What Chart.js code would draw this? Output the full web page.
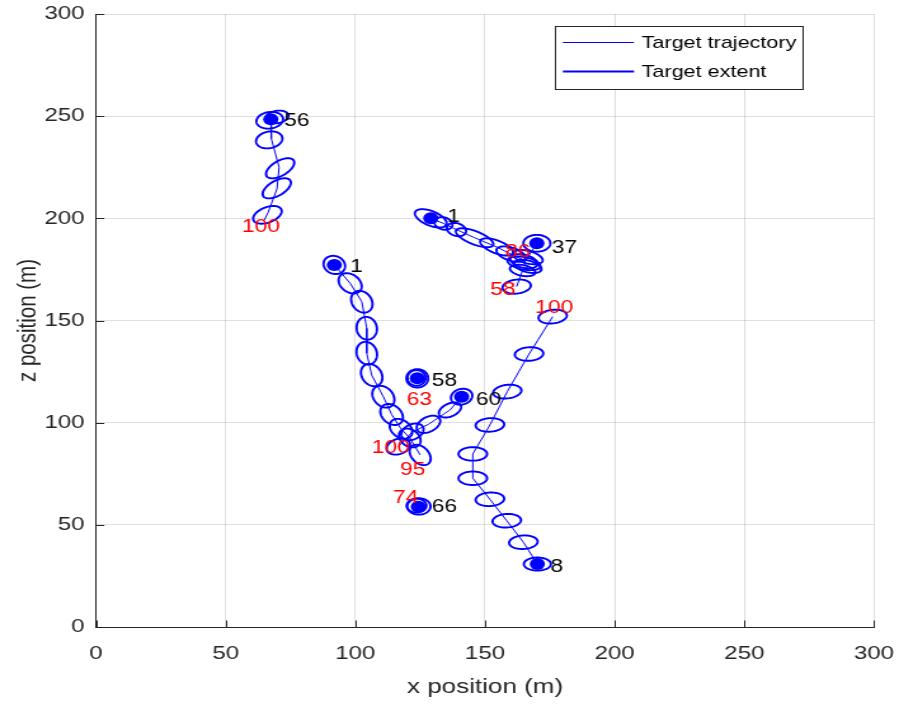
<!DOCTYPE html>
<html>
<head>
<meta charset="utf-8">
<script src="https://cdn.jsdelivr.net/npm/chart.js@4/dist/chart.umd.min.js"></script>
<style>
  html, body { margin: 0; padding: 0; background: #fff; overflow: hidden; }
  #wrap { width: 899px; height: 706px; overflow: hidden; }
  /* square axes drawn at 708 px, widened to the 899 px window */
  #plot { display: block; transform-origin: 0 0; transform: scaleX(1.26977); }
</style>
</head>
<body>
<div id="wrap"><canvas id="plot" width="708" height="706"></canvas></div>
<script>
// Axis ticks (metres)
const xTicks = [0, 50, 100, 150, 200, 250, 300];
const zTicks = [0, 50, 100, 150, 200, 250, 300];

// Target trajectories, [x, z] in metres
const trackA = [[67.4, 248.5], [67.6, 239.0], [70.6, 225.0], [69.8, 214.5], [66.4, 203.0], [64.8, 199.0]];
const trackB = [[91.9, 177.2], [98.0, 168.2], [102.5, 159.2], [104.4, 146.2], [104.4, 134.0], [106.3, 123.3],
                [110.8, 112.7], [114.0, 104.0], [117.6, 97.0], [121.0, 92.5], [125.0, 84.2]];
const trackC = [[141.0, 112.7], [136.5, 106.2], [128.2, 99.2], [122.0, 95.5], [116.6, 88.3]];
const trackD = [[123.9, 121.7], [124.2, 121.0]];
const trackE = [[124.3, 58.9], [123.6, 60.2]];
const trackF = [[170.2, 30.8], [164.8, 41.5], [158.4, 52.0], [151.9, 62.5], [145.3, 72.8], [145.3, 84.7],
                [151.9, 98.9], [158.6, 115.2], [167.0, 133.6], [176.1, 151.9]];
const trackG = [[129.1, 200.0], [134.0, 197.5], [139.0, 194.5], [146.0, 190.5], [154.5, 186.0], [160.0, 182.5], [165.0, 179.5]];
const trackH = [[170.0, 187.8], [166.5, 181.0], [165.0, 178.0], [166.5, 176.5], [164.5, 174.5], [162.2, 166.6]];

// Extent ellipses: [x centre, z centre, semi-axis a, semi-axis b, tilt in degrees]
const extentA = [[67.0, 248.0, 5.2, 4.0, 15], [69.8, 249.6, 4.5, 3.0, 15], [66.8, 238.4, 5.2, 4.0, 20],
                 [71.0, 224.5, 6.5, 3.4, 40], [69.7, 214.7, 6.5, 3.4, 40], [66.1, 201.7, 6.0, 3.6, 30]];
const extentB = [[91.9, 177.2, 4.6, 4.0, -60], [98.0, 168.2, 5.4, 3.9, -55], [102.5, 159.2, 5.5, 3.9, -70],
                 [104.4, 146.2, 5.6, 3.9, -85], [104.4, 134.0, 5.6, 3.9, -80], [106.3, 123.3, 5.6, 3.9, -70],
                 [110.8, 112.7, 5.6, 3.9, -65], [114.0, 104.0, 5.5, 3.9, -60], [117.6, 97.0, 5.3, 3.8, -55],
                 [121.0, 92.5, 5.0, 3.7, -55], [125.0, 84.2, 5.4, 3.5, -60]];
const extentC = [[141.0, 112.7, 4.3, 3.7, 35], [136.5, 106.2, 4.8, 3.0, 35], [128.2, 99.2, 5.2, 3.4, 40],
                 [122.0, 95.5, 4.8, 3.5, 40], [116.6, 88.3, 4.8, 3.6, 30]];
const extentD = [[123.9, 121.7, 4.2, 4.5, 0], [123.6, 121.9, 3.5, 3.8, 0]];
const extentE = [[124.5, 59.0, 4.5, 4.0, 0], [123.6, 59.4, 3.8, 3.4, 0]];
const extentF = [[170.2, 30.8, 5.2, 3.2, 0], [164.8, 41.5, 5.5, 3.3, 5], [158.4, 52.0, 5.5, 3.3, 5],
                 [151.9, 62.5, 5.5, 3.3, 5], [145.3, 72.8, 5.5, 3.3, 0], [145.3, 84.7, 5.5, 3.3, 0],
                 [151.9, 98.9, 5.5, 3.3, 5], [158.6, 115.2, 5.5, 3.3, 10], [167.0, 133.6, 5.5, 3.3, 5],
                 [176.1, 151.9, 5.5, 3.3, 10]];
const extentG = [[129.1, 200.0, 6.8, 3.4, -30], [134.0, 197.5, 3.6, 2.9, -30], [139.0, 194.5, 3.9, 3.0, -30],
                 [146.0, 190.5, 8.0, 3.1, -28], [154.5, 186.0, 7.0, 3.0, -28], [160.0, 182.5, 6.0, 3.1, -25],
                 [165.0, 179.0, 5.5, 3.1, -20]];
const extentH = [[170.0, 187.8, 5.2, 4.1, 0], [166.5, 181.0, 6.0, 3.0, -20], [165.0, 178.0, 6.5, 3.0, -15],
                 [166.5, 176.5, 5.5, 2.8, -20], [164.5, 174.5, 5.0, 2.6, -15], [162.2, 166.6, 5.5, 3.4, 10]];

// Time-step labels: [text, x, z]
const startLabels = [['56', 72.5, 247.7], ['1', 98.0, 176.2], ['58', 129.5, 120.6], ['60', 146.5, 111.1],
                     ['66', 129.5, 58.6], ['8', 175.3, 29.5], ['1', 135.5, 200.8], ['37', 175.7, 185.4]];
const endLabels = [['100', 56.2, 195.8], ['86', 157.7, 183.5], ['58', 152.0, 165.0], ['100', 169.3, 156.1],
                   ['63', 119.8, 111.1], ['100', 106.3, 87.6], ['95', 117.2, 76.8], ['74', 114.5, 63.1]];

const legendLabels = ['Target trajectory', 'Target extent'];

const tracks = [trackA, trackB, trackC, trackD, trackE, trackF, trackG, trackH];
const extents = [extentA, extentB, extentC, extentD, extentE, extentF, extentG, extentH];

const BLUE = 'rgb(0,0,255)';
const AXIS = '#262626';
const FONT = '"Liberation Sans", Arial, Helvetica, sans-serif';

const toXY = pts => pts.map(([x, z]) => ({ x, y: z }));

const datasets = tracks.map((t, i) => ({
  label: 'track' + i,
  data: toXY(t),
  showLine: true,
  borderColor: BLUE,
  borderWidth: 1,
  pointRadius: 0,
  fill: false,
  tension: 0
}));
datasets.push({
  label: 'start',
  data: toXY(tracks.map(t => t[0])),
  showLine: false,
  pointRadius: 6,
  pointBackgroundColor: BLUE,
  pointBorderColor: BLUE,
  pointBorderWidth: 0
});

function px(chart, x, z) {
  return [chart.scales.x.getPixelForValue(x), chart.scales.y.getPixelForValue(z)];
}

// Keep tick-label overflow from shrinking the plot box
function noOverflow(s) {
  s.paddingTop = 0; s.paddingBottom = 0; s.paddingLeft = 0; s.paddingRight = 0;
}

// Extent ellipses traced through the chart scales
const extentPlugin = {
  id: 'extentEllipses',
  afterDatasetsDraw(chart) {
    const { ctx, chartArea: a } = chart;
    ctx.save();
    ctx.beginPath();
    ctx.rect(a.left, a.top, a.right - a.left, a.bottom - a.top);
    ctx.clip();
    ctx.strokeStyle = BLUE;
    ctx.lineWidth = 1.9;
    extents.flat().forEach(([cx, cz, ea, eb, deg]) => {
      const th = deg * Math.PI / 180, c = Math.cos(th), s = Math.sin(th);
      ctx.beginPath();
      for (let i = 0; i <= 90; i++) {
        const t = i / 90 * 2 * Math.PI;
        const u = ea * Math.cos(t), v = eb * Math.sin(t);
        const [X, Y] = px(chart, cx + u * c - v * s, cz + u * s + v * c);
        if (i === 0) ctx.moveTo(X, Y); else ctx.lineTo(X, Y);
      }
      ctx.closePath();
      ctx.stroke();
    });
    ctx.restore();
  }
};

// Start (black) and end (red) time-step numbers
const labelPlugin = {
  id: 'stepLabels',
  afterDatasetsDraw(chart) {
    const ctx = chart.ctx;
    ctx.save();
    ctx.font = '18px ' + FONT;
    ctx.textAlign = 'left';
    ctx.textBaseline = 'middle';
    ctx.fillStyle = '#000';
    startLabels.forEach(([t, x, z]) => { const [X, Y] = px(chart, x, z); ctx.fillText(t, X, Y); });
    ctx.fillStyle = 'rgb(255,0,0)';
    endLabels.forEach(([t, x, z]) => { const [X, Y] = px(chart, x, z); ctx.fillText(t, X, Y); });
    ctx.restore();
  }
};

// Inward tick marks on the left and bottom axes
const tickPlugin = {
  id: 'innerTicks',
  afterDraw(chart) {
    const { ctx, chartArea: a, scales } = chart;
    const L = 6.5;
    ctx.save();
    ctx.strokeStyle = AXIS;
    ctx.lineWidth = 1;
    ctx.beginPath();
    xTicks.forEach(v => {
      const X = Math.round(scales.x.getPixelForValue(v)) + 0.5;
      ctx.moveTo(X, a.bottom); ctx.lineTo(X, a.bottom - L);
    });
    zTicks.forEach(v => {
      const Y = Math.round(scales.y.getPixelForValue(v)) + 0.5;
      ctx.moveTo(a.left, Y); ctx.lineTo(a.left + L, Y);
    });
    ctx.stroke();
    ctx.restore();
  }
};

// Boxed legend in the upper right of the axes
const legendPlugin = {
  id: 'boxLegend',
  afterDraw(chart) {
    const { ctx, chartArea: a } = chart;
    const right = a.right - 56, top = a.top + 12, w = 195, h = 63;
    const left = right - w;
    ctx.save();
    ctx.fillStyle = '#fff';
    ctx.fillRect(left, top, w, h);
    ctx.strokeStyle = AXIS;
    ctx.lineWidth = 1;
    ctx.strokeRect(Math.round(left) + 0.5, Math.round(top) + 0.5, w, h);
    ctx.font = '17px ' + FONT;
    ctx.textBaseline = 'middle';
    ctx.textAlign = 'left';
    ctx.fillStyle = '#000';
    legendLabels.forEach((txt, i) => {
      const y = top + 16.5 + i * 29;
      ctx.strokeStyle = BLUE;
      ctx.lineWidth = i === 0 ? 1 : 2;
      ctx.beginPath();
      ctx.moveTo(left + 6, y); ctx.lineTo(left + 62, y);
      ctx.stroke();
      ctx.fillText(txt, left + 68, y + 0.5);
    });
    ctx.restore();
  }
};

new Chart(document.getElementById('plot'), {
  type: 'scatter',
  data: { datasets },
  options: {
    responsive: false,
    animation: false,
    events: [],
    layout: { autoPadding: false, padding: { top: 14, right: 19.7, left: 0, bottom: 0 } },
    plugins: { legend: { display: false }, tooltip: { enabled: false } },
    scales: {
      x: {
        type: 'linear', min: 0, max: 300,
        afterBuildTicks: s => { s.ticks = xTicks.map(v => ({ value: v })); },
        afterFit: s => { s.height = 79; noOverflow(s); },
        grid: { color: 'rgba(38,38,38,0.15)', lineWidth: 1, drawTicks: false },
        border: { display: true, color: AXIS, width: 1 },
        ticks: { color: AXIS, font: { family: FONT, size: 19 }, padding: 15, maxRotation: 0, autoSkip: false },
        title: { display: true, text: 'x position (m)', color: AXIS, font: { family: FONT, size: 20.5 },
                 padding: { top: 0, bottom: 6 } }
      },
      y: {
        type: 'linear', min: 0, max: 300,
        afterBuildTicks: s => { s.ticks = zTicks.map(v => ({ value: v })); },
        afterFit: s => { s.width = 75.6; noOverflow(s); },
        grid: { color: 'rgba(38,38,38,0.15)', lineWidth: 1, drawTicks: false },
        border: { display: true, color: AXIS, width: 1 },
        ticks: { color: AXIS, font: { family: FONT, size: 19 }, padding: 9, autoSkip: false },
        title: { display: true, text: 'z position (m)', color: AXIS, font: { family: FONT, size: 20.5 },
                 padding: { top: 10, bottom: 0 } }
      }
    }
  },
  plugins: [extentPlugin, labelPlugin, tickPlugin, legendPlugin]
});
</script>
</body>
</html>
